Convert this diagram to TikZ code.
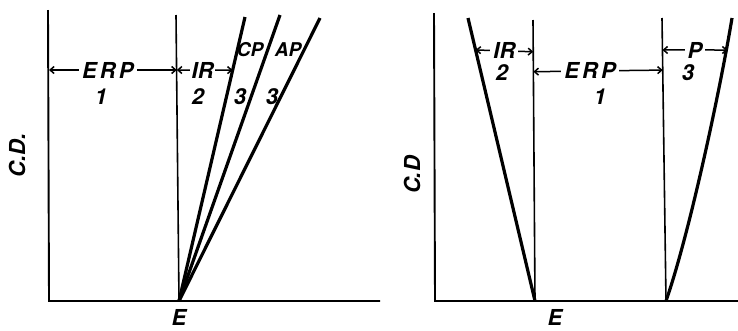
\documentclass[tikz,border=0pt]{standalone}
\usepackage{fontspec}
\setmainfont{TeX Gyre Heros}
\usetikzlibrary{arrows.meta}
\usetikzlibrary{calc}

\begin{document}
\begin{tikzpicture}[
				x=1pt, y=-1pt,
				axisline/.style={line width=1.9pt},
				bound/.style={line width=1.6pt},
				graph/.style={line width=3.2pt},
				span/.style={{Straight Barb[length=4pt,width=7pt]}-{Straight Barb[length=4pt,width=7pt]}, line width=1.5pt},
				lab/.style={font=\fontsize{22}{24}\selectfont\bfseries\itshape, inner sep=1pt},
				small/.style={font=\fontsize{19}{21}\selectfont\bfseries\itshape, inner sep=0pt},
				gaplab/.style={lab, fill=white, inner xsep=3pt},
				wide/.style={font=\fontsize{22}{24}\selectfont\bfseries\itshape\addfontfeatures{LetterSpace=14}}
			]
			\useasboundingbox (0,0) rectangle (738,330);

			% Left diagram
			\coordinate (o1) at (49,301);
			\coordinate (y1) at (48,10);
			\coordinate (x1) at (380,301);
			\coordinate (e1) at (179,301);
			\coordinate (m1) at (176,15);
			\coordinate (t1) at (245,17);
			\coordinate (t2) at (280,15);
			\coordinate (t3) at (320,18);
			\draw[axisline] (y1) -- (o1) -- (x1);
			\draw[bound] (m1) -- (e1);
			\draw[graph] (e1) -- (t1);
			\draw[graph] (e1) -- (t2);
			\draw[graph] (e1) -- (t3);

			\coordinate (a1) at (49,70);
			\coordinate (a2) at (176.8,70);
			\coordinate (a3) at ($(e1)!0.813!(t1)$);
			\draw[span] (a1) -- (a2) node[gaplab, wide, midway, xshift=-5pt] (erpl) {ERP};
			\draw[span] (a2) -- (a3) node[gaplab, inner xsep=1.5pt, midway, xshift=-2pt] (irl) {IR};
			\node[lab] (n1l) at (101,97) {1};
			\node[lab] (n2l) at (198,97) {2};
			\node[small] (cp) at (250,50) {CP};
			\node[small] (ap) at (288,50) {AP};
			\node[lab] (n3a) at (240,97) {3};
			\node[lab] (n3b) at (272,97) {3};
			\node[lab, rotate=90] (cdl) at (17,155) {C.D.};
			\node[lab] (el) at (179,317) {E};

			% Right diagram
			\coordinate (o2) at (435,301);
			\coordinate (y2) at (434,13);
			\coordinate (x2) at (738,301);
			\coordinate (e2) at (535,301);
			\coordinate (s2) at (468,18);
			\coordinate (m2) at (533,20);
			\coordinate (e3) at (666,301);
			\coordinate (m3) at (662,18);
			\coordinate (p3) at (732,18);
			\draw[axisline] (y2) -- (o2) -- (x2);
			\draw[bound] (m2) -- (e2);
			\draw[bound] (m3) -- (e3);
			\draw[graph] (s2) -- (e2);
			\draw[graph] (e3) .. controls (690,232) and (721,85) .. (p3);

			\coordinate (b1) at ($(e2)!0.887!(s2)$);
			\coordinate (b2) at ($(e2)!0.887!(m2)$);
			\coordinate (b3) at ($(e2)!0.816!(m2)$);
			\coordinate (b4) at ($(e3)!0.816!(m3)$);
			\coordinate (b5) at ($(e3)!0.887!(m3)$);
			\coordinate (b6) at (727.5,50);
			\draw[span] (b1) -- (b2) node[gaplab, midway] (irr) {IR};
			\draw[span] (b3) -- (b4) node[gaplab, wide, midway, xshift=-8pt] (erpr) {ERP};
			\draw[span] (b5) -- (b6) node[gaplab, midway] (pr) {P};
			\node[lab] (n2r) at (502,73) {2};
			\node[lab] (n1r) at (600,97) {1};
			\node[lab] (n3r) at (688,73) {3};
			\node[lab, rotate=90] (cdr) at (412,175) {C.D};
			\node[lab] (er) at (555,317) {E};

		\end{tikzpicture}
\end{document}
